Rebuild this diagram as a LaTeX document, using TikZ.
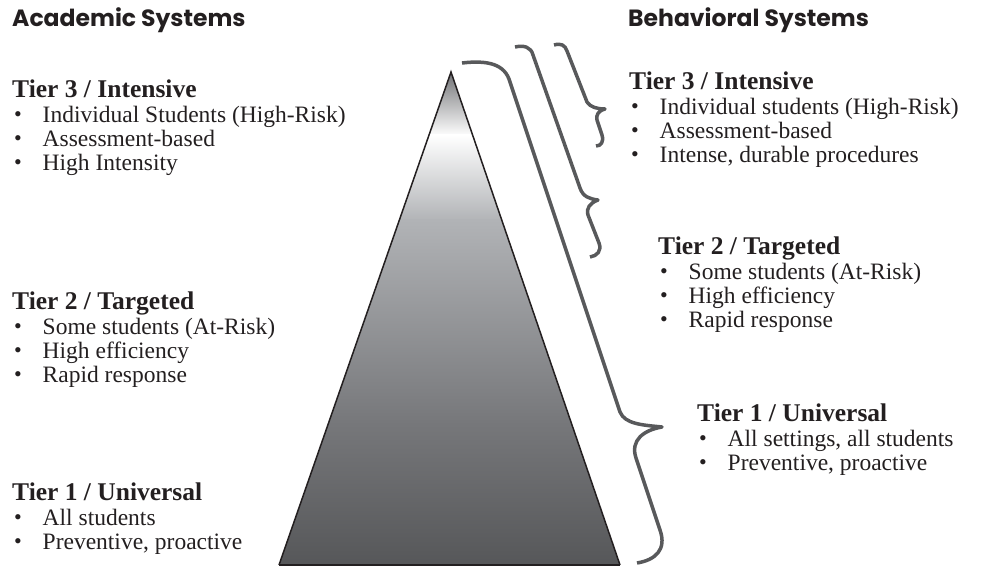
\documentclass[tikz,border=0pt]{standalone}
\usepackage{fontspec}
\setmainfont{Liberation Serif}
\newfontfamily\headfont{Poppins}
\usepackage{tikz}

\definecolor{inkdark}{HTML}{231F20}
\definecolor{bracegray}{HTML}{58595B}
\definecolor{pyrtop}{HTML}{6D6E71}
\definecolor{pyrmid}{HTML}{B1B3B6}
\definecolor{pyrlow}{HTML}{77787B}
\definecolor{pyrbase}{HTML}{555658}

\newcommand{\tierbullet}{\hspace*{2pt}\makebox[28.5pt][l]{\raisebox{1pt}{\fontsize{22}{22}\selectfont\textbullet}}}
\newcommand{\tiertitle}[1]{{\bfseries\fontsize{25.5}{24}\selectfont #1}}

\tikzset{
  syshead/.style={anchor=base west, inner sep=0pt, text=inkdark,
    font=\headfont\bfseries\fontsize{23.5}{24}\selectfont},
  tierbox/.style={anchor=north west, inner sep=0pt, align=left, text=inkdark,
    font=\fontsize{23.5}{24}\selectfont},
  tierbrace/.style={draw=bracegray, line width=3.5pt, line join=round},
}

\begin{document}
\begin{tikzpicture}[x=1pt, y=-1pt]
  \useasboundingbox (0,0) rectangle (990,569);

  % pyramid
  \coordinate (apex) at (451,72);
  \coordinate (baseL) at (279,565);
  \coordinate (baseR) at (620,565);
  \begin{scope}
    \clip (apex) -- (baseL) -- (baseR) -- cycle;
    \shade[top color=pyrtop, bottom color=white] (270,70) rectangle (630,136);
    \shade[top color=white, bottom color=pyrmid] (270,135) rectangle (630,221);
    \shade[top color=pyrmid, bottom color=pyrlow] (270,220) rectangle (630,421);
    \shade[top color=pyrlow, bottom color=pyrbase] (270,420) rectangle (630,570);
  \end{scope}
  \draw[inkdark, line width=1.5pt] (baseL) -- (apex) -- (baseR);
  \draw[inkdark, line width=2.5pt] (baseL) -- (baseR);

  % headings
  \node[syshead] (acadHead) at (12,27) {Academic Systems};
  \node[syshead] (behHead) at (628,27) {Behavioral Systems};

  % academic side
  \node[tierbox] (acadT3) at (12,80) {\tiertitle{Tier 3 / Intensive}\\[1pt]
    \tierbullet Individual Students (High-Risk)\\
    \tierbullet Assessment-based\\
    \tierbullet High Intensity};
  \node[tierbox] (acadT2) at (12,292) {\tiertitle{Tier 2 / Targeted}\\[1pt]
    \tierbullet Some students (At-Risk)\\
    \tierbullet High efficiency\\
    \tierbullet Rapid response};
  \node[tierbox] (acadT1) at (12,483) {\tiertitle{Tier 1 / Universal}\\[1pt]
    \tierbullet All students\\
    \tierbullet Preventive, proactive};

  % behavioral side
  \node[tierbox] (behT3) at (629,72) {\tiertitle{Tier 3 / Intensive}\\[1pt]
    \tierbullet Individual students (High-Risk)\\
    \tierbullet Assessment-based\\
    \tierbullet Intense, durable procedures};
  \node[tierbox] (behT2) at (658,237) {\tiertitle{Tier 2 / Targeted}\\[1pt]
    \tierbullet Some students (At-Risk)\\
    \tierbullet High efficiency\\
    \tierbullet Rapid response};
  \node[tierbox] (behT1) at (697,404) {\tiertitle{Tier 1 / Universal}\\[1pt]
    \tierbullet All settings, all students\\
    \tierbullet Preventive, proactive};

  % braces
  \draw[tierbrace] (554,45) .. controls (561,43) and (565,45) .. (567,51)
    -- (587,102) .. controls (590,107) and (597,109) .. (605,109)
    .. controls (598,111) and (596,115) .. (597,120)
    -- (602,135) .. controls (604,142) and (601,146) .. (596,146);
  \draw[tierbrace] (515,47) .. controls (524,45) and (531,47) .. (533,55)
    -- (580,188) .. controls (583,197) and (590,199) .. (598,200)
    .. controls (590,203) and (586,208) .. (588,215)
    -- (599,243) .. controls (602,251) and (597,256) .. (590,257);
  \draw[tierbrace] (462,63) .. controls (488,60) and (505,64) .. (510,82)
    -- (620,412) .. controls (625,424) and (642,425) .. (662,427)
    .. controls (644,430) and (630,440) .. (636,458)
    -- (660,530) .. controls (667,550) and (655,560) .. (637,563);
\end{tikzpicture}
\end{document}
